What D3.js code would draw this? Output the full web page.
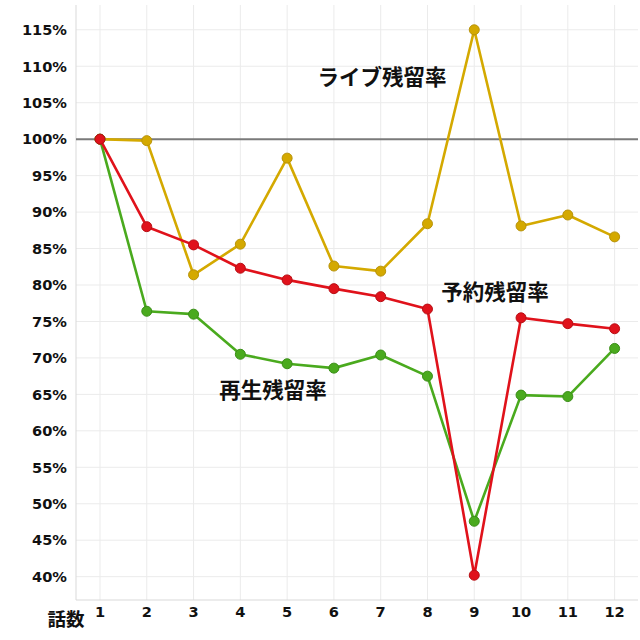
<!DOCTYPE html>
<html>
<head>
<meta charset="utf-8">
<script src="https://cdn.jsdelivr.net/npm/d3@7"></script>
<style>
  body { margin: 0; background: #fff; }
  svg { display: block; }
</style>
</head>
<body>
<svg width="640" height="640"></svg>
<script>
const episodes = [1, 2, 3, 4, 5, 6, 7, 8, 9, 10, 11, 12];
const liveRate = [100, 99.8, 81.4, 85.6, 97.4, 82.6, 81.9, 88.4, 115, 88.1, 89.6, 86.6];
const reserveRate = [100, 88.0, 85.5, 82.3, 80.7, 79.5, 78.4, 76.7, 40.2, 75.5, 74.7, 74.0];
const playRate = [100, 76.4, 76.0, 70.5, 69.2, 68.6, 70.4, 67.5, 47.6, 64.9, 64.7, 71.3];
const yTicks = [40, 45, 50, 55, 60, 65, 70, 75, 80, 85, 90, 95, 100, 105, 110, 115];

const series = [
  {name: 'ライブ残留率', values: liveRate, color: '#d4a900', stroke: '#b8930a', lx: 382, ly: 77},
  {name: '再生残留率', values: playRate, color: '#4aaa1e', stroke: '#3a8e17', lx: 273, ly: 390},
  {name: '予約残留率', values: reserveRate, color: '#e0121b', stroke: '#b80f15', lx: 495, ly: 292}
];

const svg = d3.select('svg');
const plotL = 76, plotR = 638, plotT = 5, plotB = 600;

const x = d3.scaleLinear().domain([0.5, 12.5]).range([plotL + 0.6, plotR]);
const y = d3.scaleLinear().domain([36.8, 118.4]).range([plotB, plotT]);

// grid
svg.append('g').selectAll('line')
  .data(episodes)
  .enter().append('line')
  .attr('x1', d => x(d)).attr('x2', d => x(d))
  .attr('y1', plotT).attr('y2', plotB)
  .attr('stroke', '#ebebeb').attr('stroke-width', 1);

svg.append('g').selectAll('line')
  .data(yTicks.filter(d => d != 100))
  .enter().append('line')
  .attr('x1', plotL).attr('x2', plotR)
  .attr('y1', d => y(d)).attr('y2', d => y(d))
  .attr('stroke', '#ebebeb').attr('stroke-width', 1);

// axis frame
svg.append('line')
  .attr('x1', plotL).attr('x2', plotL).attr('y1', plotT).attr('y2', plotB)
  .attr('stroke', '#d9d9d9');
svg.append('line')
  .attr('x1', plotL).attr('x2', plotR).attr('y1', plotB).attr('y2', plotB)
  .attr('stroke', '#d9d9d9');

// 100% reference line
svg.append('line')
  .attr('x1', plotL).attr('x2', plotR)
  .attr('y1', y(100)).attr('y2', y(100))
  .attr('stroke', '#7a7a7a').attr('stroke-width', 2);

// tick labels
svg.append('g').selectAll('text')
  .data(yTicks)
  .enter().append('text')
  .attr('x', 67).attr('y', d => y(d))
  .attr('dy', '0.36em')
  .attr('text-anchor', 'end')
  .attr('font-family', 'DejaVu Sans, Verdana, sans-serif')
  .attr('font-weight', 'bold').attr('font-size', 14.6)
  .attr('fill', '#111')
  .text(d => d + '%');

svg.append('g').selectAll('text')
  .data(episodes)
  .enter().append('text')
  .attr('x', d => x(d)).attr('y', 612)
  .attr('dy', '0.36em')
  .attr('text-anchor', 'middle')
  .attr('font-family', 'DejaVu Sans, Verdana, sans-serif')
  .attr('font-weight', 'bold').attr('font-size', 14.6)
  .attr('fill', '#111')
  .text(d => d);

svg.append('text')
  .attr('x', 66).attr('y', 619)
  .attr('dy', '0.36em')
  .attr('text-anchor', 'middle')
  .attr('font-family', 'Noto Sans CJK JP, sans-serif')
  .attr('font-weight', 'bold').attr('font-size', 18.5)
  .attr('fill', '#111')
  .text('話数');

// lines + points
const line = d3.line()
  .x((d, i) => x(episodes[i]))
  .y(d => y(d));

series.forEach(s => {
  const g = svg.append('g');
  g.append('path')
    .attr('d', line(s.values))
    .attr('fill', 'none')
    .attr('stroke', s.color)
    .attr('stroke-width', 2.6)
    .attr('stroke-linejoin', 'round');
  g.selectAll('circle')
    .data(s.values)
    .enter().append('circle')
    .attr('cx', (d, i) => x(episodes[i]))
    .attr('cy', d => y(d))
    .attr('r', 5)
    .attr('fill', s.color)
    .attr('stroke', s.stroke).attr('stroke-width', 1);
});

// series labels
svg.append('g').selectAll('text')
  .data(series)
  .enter().append('text')
  .attr('x', d => d.lx).attr('y', d => d.ly)
  .attr('dy', '0.36em')
  .attr('text-anchor', 'middle')
  .attr('font-family', 'Noto Sans CJK JP, sans-serif')
  .attr('font-weight', 'bold').attr('font-size', 21.5)
  .attr('fill', '#111')
  .text(d => d.name);
</script>
</body>
</html>
